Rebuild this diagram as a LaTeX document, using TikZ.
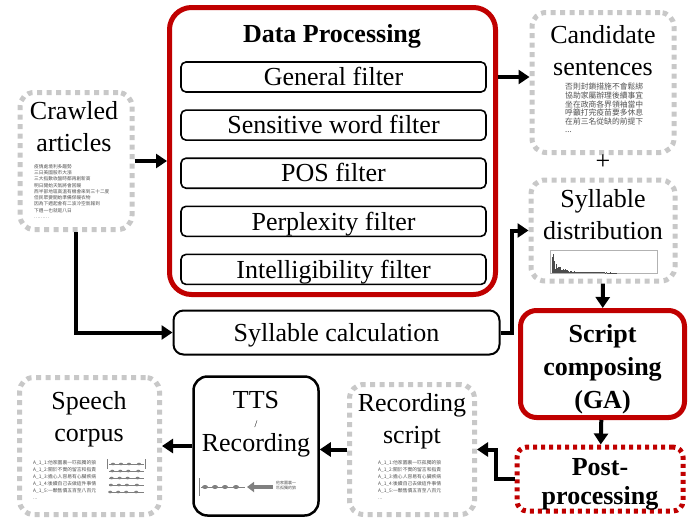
\documentclass[tikz,border=0pt]{standalone}
\usepackage{fontspec}
\setmainfont{Liberation Serif}
\newfontfamily\cjk{Noto Sans CJK TC}
\usepackage{xcolor}
\usepackage{tikz}
\usetikzlibrary{positioning,arrows.meta}

\definecolor{darkred}{RGB}{192,0,0}
\definecolor{dotgray}{RGB}{200,200,200}
\definecolor{txtgray}{RGB}{80,80,80}

\begin{document}
\begin{tikzpicture}[x=1pt, y=-1pt, font=\fontsize{26}{32}\selectfont]
        % Define a style for the nodes
        \tikzstyle{dotbox} = [draw=dotgray, line width=5pt, dash pattern=on 5pt off 4.5pt, rounded corners=14pt]
        \tikzstyle{redbox} = [draw=darkred, line width=5pt, rounded corners=16pt]
        \tikzstyle{boldtitle} = [align=center, font=\fontsize{26}{33}\selectfont\bfseries]
        \tikzstyle{filterbox} = [draw, line width=1.6pt, rounded corners=5pt, minimum width=305pt, minimum height=30pt, text height=17.5pt, text depth=0pt, inner sep=0pt]
        \tikzstyle{blackbox} = [draw, line width=2pt, rounded corners=10pt]
        \tikzstyle{arrow} = [-{Triangle[length=11pt,width=14pt]}, line width=4pt]
        \tikzstyle{tiny} = [text=txtgray, align=left, inner sep=0pt, anchor=north west]

        \useasboundingbox (0,0) rectangle (700,520);

        % Data processing
        \node (dp) [draw=darkred, line width=5pt, rounded corners=22pt, minimum width=326pt, minimum height=287pt] at (332.5,151) {};
        \node (dptitle) at (332,36) {\bfseries Data Processing};
        \node (general) [filterbox] at (333.5,77) {General filter};
        \node (sensitive) [filterbox, below=16.5pt of general] {Sensitive word filter};
        \node (pos) [filterbox, below=16.5pt of sensitive] {POS filter};
        \node (perplexity) [filterbox, below=16.5pt of pos] {Perplexity filter};
        \node (intelligibility) [filterbox, below=16.5pt of perplexity] {Intelligibility filter};

        % Sources and results
        \node (crawled) [dotbox, minimum width=112pt, minimum height=137pt] at (76,161) {};
        \node (crawledtitle) [align=center] at (74,127) {Crawled\\articles};
        \node (crawledtext) [tiny, font=\cjk\fontsize{4.7}{6.3}\selectfont] at (34,164) {疫情處境利多趨勢\\三日美國股市大漲\\三大指數收盤時都再創新高\\明日開始天氣將會回暖\\西半部地區高溫有機會來到三十二度\\但民眾要開始準備保暖衣物\\因為下週起會有二波冷空氣報到\\下週一也就是八日\\………};

        \node (candidate) [dotbox, minimum width=142pt, minimum height=140pt] at (603,82.5) {};
        \node (candtitle) [align=center] at (603,51) {Candidate\\sentences};
        \node (candtext) [tiny, font=\cjk\fontsize{7.8}{8.6}\selectfont] at (565,83) {否則封鎖措施不會鬆綁\\協助家屬辦理後續事宜\\坐在政商各界領袖當中\\呼籲打完疫苗要多休息\\在前三名從缺的前提下\\...};

        \node (plus) at (603,162) {+};

        \node (sylldist) [dotbox, minimum width=144pt, minimum height=101pt] at (603,230.5) {};
        \node (sylltitle) [align=center] at (603,215) {Syllable\\distribution};
        \draw[gray!60, line width=0.5pt] (550,250) rectangle (657,273);
        \pgfmathsetseed{11}
        \foreach \i in {0,...,75} {
            \pgfmathsetmacro{\h}{21*exp(-\i/9)*(0.25+0.75*rnd)+0.5}
            \draw[black!70, line width=0.45pt] (552+\i*0.85,273) -- ++(0,-\h);
        }

        \node (syllcalc) [blackbox, minimum width=326pt, minimum height=44pt, text height=17.5pt, text depth=0pt] at (336.5,332.5) {Syllable calculation};

        \node (script) [redbox, minimum width=164pt, minimum height=107pt] at (602.5,364) {};
        \node (scripttitle) [boldtitle] at (602.5,369) {Script\\composing\\(GA)};
        \node (post) [redbox, dash pattern=on 4pt off 4pt, rounded corners=10pt, minimum width=166pt, minimum height=64pt] at (600,479) {};
        \node (posttitle) [boldtitle, font=\fontsize{26}{29}\selectfont\bfseries] at (600,484) {Post-\\processing};

        \node (recscript) [dotbox, minimum width=125pt, minimum height=130pt] at (412,449.5) {};
        \node (rectitle) [align=center] at (412,421) {Recording\\script};
        \node (rectext) [tiny, font=\cjk\fontsize{4.8}{7}\selectfont] at (378,460) {A\_1\_1:他家園裏一匹孤獨的狼\\A\_1\_2:關於不實的留言和指責\\A\_1\_3:擔心人容易有心臟疾病\\A\_1\_4:後續自己去做這件事情\\A\_1\_5:一顆售價五百至八百元\\...};

        \node (tts) [blackbox, line width=2.5pt, rounded corners=14pt, minimum width=125pt, minimum height=139pt] at (256,446) {};
        \node (ttsname) at (256,400) {TTS};
        \node (ttsslash) [font=\fontsize{10}{10}\selectfont] at (256,424) {/};
        \node (ttsrec) at (256,445) {Recording};
        \node (ttstext) [tiny, font=\cjk\fontsize{4}{5}\selectfont] at (276,481) {他家園裏一\\匹孤獨的狼};
        \draw[gray, line width=0.5pt] (199,478) -- (199,496);
        \draw[gray, line width=0.6pt] (201,487) -- (245,487);
        \foreach \x in {205,215,225,236} \fill[gray] (\x,487) ellipse (3pt and 2pt);
        \draw[gray, line width=4pt, -{Triangle[length=7pt,width=10pt]}] (273,487) -- (247,487);

        \node (speech) [dotbox, minimum width=140pt, minimum height=137pt] at (89.5,446) {};
        \node (speechtitle) [align=center] at (89,419) {Speech\\corpus};
        \node (speechtext) [tiny, font=\cjk\fontsize{4.8}{7}\selectfont] at (33,460) {A\_1\_1:他家園裏一匹孤獨的狼\\A\_1\_2:關於不實的留言和指責\\A\_1\_3:擔心人容易有心臟疾病\\A\_1\_4:後續自己去做這件事情\\A\_1\_5:一顆售價五百至八百元\\...};
        \draw[gray, line width=0.5pt] (107,459) -- (107,469) (145,459) -- (145,469);
        \foreach \r in {0,...,4} {
            \draw[gray, line width=0.5pt] (109,464+7*\r) -- (144,464+7*\r);
            \foreach \x in {113,121,129,139} \fill[gray] (\x-\r*0.7,464+7*\r) ellipse (2pt and 1.3pt);
        }

        % Edges
        \draw [arrow] (crawled) -- (crawled -| dp.west);
        \draw [arrow] (dp.east |- general) -- (candidate.west |- general);
        \draw [arrow] (crawled.south) |- (syllcalc.west);
        \draw [arrow] (syllcalc.east) -- ++(11,0) |- (sylldist.west);
        \draw [arrow] (sylldist) -- (script);
        \draw [arrow] (script) -- (post);
        \draw [arrow] (post.west) -- ++(-19,0) |- (recscript.east);
        \draw [arrow] (recscript.west) -- (recscript.west -| tts.east);
        \draw [arrow] (tts.west) -- (tts.west -| speech.east);
    \end{tikzpicture}
\end{document}
